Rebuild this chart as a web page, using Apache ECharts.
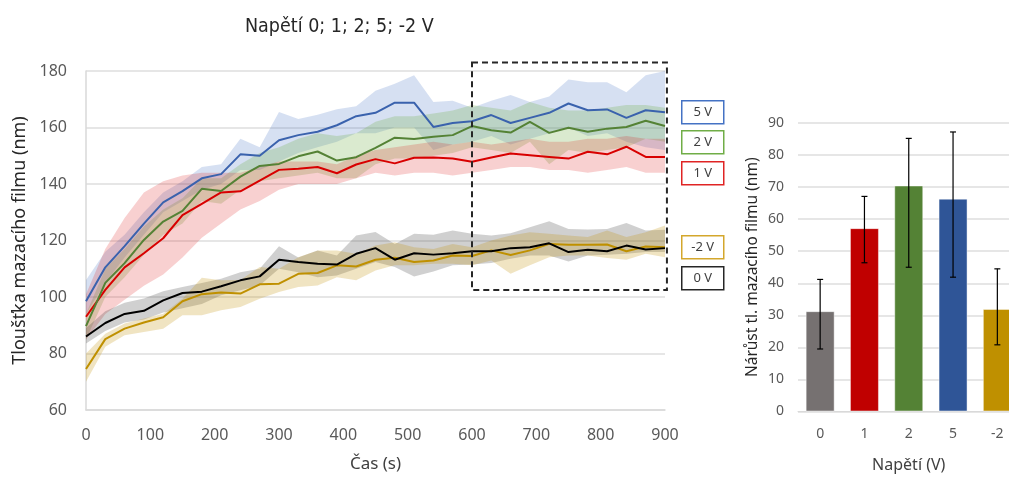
<!DOCTYPE html>
<html>
<head>
<meta charset="utf-8">
<script src="https://cdn.jsdelivr.net/npm/echarts@6/dist/echarts.min.js"></script>
<style>
  html, body { margin: 0; padding: 0; background: #ffffff; }
  #chart { width: 1009px; height: 477px; }
</style>
</head>
<body>
<div id="chart"></div>
<script>
// Sampling times (s)
const times = [0,30,60,90,120,150,180,210,240,270,300,330,360,390,420,450,480,510,540,570,600,630,660,690,720,750,780,810,840,870,900];

// 5 V: mean film thickness (nm) and band limits
const v5   = [98.5,110.5,118,126,133.5,137.5,142,143.5,150.5,150,155.5,157.3,158.5,160.8,164,165.2,168.8,168.8,160.2,161.6,162.2,164.4,161.6,163.4,165.2,168.5,166.1,166.4,163.4,166.1,165.4];
const v5Hi = [106,116,122,130,137,141,146,147,156,153,165.5,163,164.5,166.5,167.5,173,175.5,178.5,169,169.5,167,169.5,171.5,169,171,177,176,176,172.5,178.5,180];
const v5Lo = [94,105,114,122,130,134,138,140,145,145,148,151,153,155,158,158,160,160,152,154,155,157,154,156,158,160,157,158,155,153,152];

// 2 V
const v2   = [89.7,105,112,120.2,126.7,130.5,138.3,137.5,142.6,146.4,147.1,149.8,151.5,148.3,149.5,152.8,156.4,155.9,156.7,157.3,160.5,159,158.2,162,158.1,159.9,158.5,159.6,160.2,162.4,160.5];
const v2Hi = [94,110,117,125,131,135,142,142,147,151,153,156,158,157,158,162,164,164,165,166,168,167,166,169,167,166,166,167,168,168,167];
const v2Lo = [85,100,107,115,122,126,134,133,138,141,142,143,144,142,142,147,149,149,150,151,153,152,151,155,147,152,151,152,153,156,155];

// 1 V
const v1   = [93,102.5,110.5,115.5,120.8,129,133,137,137.4,141.2,145,145.4,146,143.8,146.9,148.8,147.3,149.3,149.4,149,147.9,149.4,150.8,150.2,149.6,149,151.4,150.5,153.2,149.6,149.6];
const v1Hi = [101,117,128,137,141,143,144,144,144,146,148,148,148,147,150,152,153,154,155,154,155,154,155,156,155,155,156,156,157,156,156];
const v1Lo = [85,94,99,104,108,114,121,126,131,134,138,140,140,140,142,144,143,144,144,143,144,145,146,146,145,145,144,145,146,144,144];

// 0 V
const v0   = [86,90.8,94,95.1,98.8,101.4,101.9,103.8,105.9,107.3,113.2,112.4,111.8,111.5,115.3,117.3,113.2,115.5,115,115.5,116.2,116.2,117.3,117.6,119,115.9,116.7,116.2,118.2,116.8,117.3];
const v0Hi = [89,95,98,99.5,102,103.5,105,106.5,108.8,110,118,114,116.5,114.7,121.8,123,118.8,122.4,122,123.5,122.4,121.8,122.6,124.7,126.8,124.1,123.9,124.1,126.2,123.5,123.8];
const v0Lo = [83.5,88,91,92,94.5,96,97.5,100.6,102.4,104.1,110,108.8,107,107.6,110,112.4,110.6,107.3,109,111.2,111.5,112,113.5,114.7,114.7,112.6,114.7,115,115.3,115.9,115.9];

// -2 V
const vm2   = [74.5,85.1,88.8,91,92.8,98.5,101,101.6,101.2,104.5,104.7,108.2,108.5,111.2,110.8,113.2,113.9,112.4,112.9,114.7,114.5,116.5,114.9,116.5,118.8,118.5,118.5,118.6,116.2,117.9,117.6];
const vm2Hi = [80,87,90.6,92.4,94.1,99.4,106.8,105.9,106,110.6,110,114.1,116.5,116.5,115.3,118.2,119.4,117.6,117,118.8,117.6,120,121.8,122.9,122.4,121.8,121.2,123.5,121.2,122.9,125.3];
const vm2Lo = [70,82.4,86.5,87.6,88.8,93.5,93.5,95.3,96.5,99.4,101.8,103.5,104.1,107,105.9,109.4,111.2,111.2,111.8,111.8,111.2,112.9,108.2,111.2,114.1,114.7,114.7,113.8,113.2,115.3,114.1];

// Thickness growth per voltage (bar chart)
const barCategories = ['0', '1', '2', '5', '-2'];
const barValues     = [31.3, 57.2, 70.5, 66.4, 32.0];
const barErrHigh    = [41.2, 67.1, 85.2, 87.2, 44.5];
const barErrLow     = [19.5, 46.4, 45.0, 41.9, 20.8];

// Highlighted steady-state window (time range and thickness range)
const windowTimes = [600, 903];
const windowThick = [102.5, 183];

const labelFont = 'Noto Sans';
const textColor = '#595959';
const barColors = ['#767171', '#c00000', '#548235', '#2f5597', '#bf9000'];

function toPairs(vals) {
  return times.map((t, i) => [t, vals[i]]);
}

function band(lo, hi, fill) {
  return {
    type: 'custom',
    xAxisIndex: 0, yAxisIndex: 0,
    silent: true, z: 1,
    data: [0],
    renderItem: function (params, api) {
      const pts = [];
      for (let i = 0; i < times.length; i++) pts.push(api.coord([times[i], hi[i]]));
      for (let i = times.length - 1; i >= 0; i--) pts.push(api.coord([times[i], lo[i]]));
      return { type: 'polygon', shape: { points: pts }, style: { fill: fill } };
    }
  };
}

function line(vals, color, z) {
  return {
    type: 'line', xAxisIndex: 0, yAxisIndex: 0,
    data: toPairs(vals),
    showSymbol: false, silent: true, z: z,
    lineStyle: { color: color, width: 2 }
  };
}

const legendBoxes = [
  { text: '5 V',  color: '#4472c4', top: 100 },
  { text: '2 V',  color: '#70ad47', top: 130 },
  { text: '1 V',  color: '#e02424', top: 161 },
  { text: '-2 V', color: '#d4a72c', top: 235 },
  { text: '0 V',  color: '#262626', top: 266 }
];

const graphics = legendBoxes.map(b => ({
  type: 'group', left: 681, top: b.top,
  children: [
    { type: 'rect', shape: { x: 0, y: 0, width: 42, height: 23 },
      style: { fill: '#ffffff', stroke: b.color, lineWidth: 1.5 } },
    { type: 'text', x: 21, y: 12,
      style: { text: b.text, fill: '#404040', font: '13px "Noto Sans"', align: 'center', verticalAlign: 'middle' } }
  ]
}));

const chart = echarts.init(document.getElementById('chart'), null, { renderer: 'canvas' });

chart.setOption({
  animation: false,
  backgroundColor: '#ffffff',
  title: {
    text: 'Napětí 0; 1; 2; 5; -2 V',
    left: 240, top: 12,
    textStyle: { fontFamily: 'DejaVu Sans Condensed', fontSize: 19.5, fontWeight: 'normal', color: '#262626' }
  },
  grid: [
    { left: 86, top: 71, width: 579, height: 339, outerBoundsMode: 'none', containLabel: false },
    { left: 798, top: 123, width: 221.5, height: 288.5, outerBoundsMode: 'none', containLabel: false }
  ],
  xAxis: [
    {
      type: 'value', gridIndex: 0, min: 0, max: 900, interval: 100,
      name: 'Čas (s)', nameLocation: 'middle', nameGap: 46,
      nameTextStyle: { fontFamily: labelFont, fontSize: 17, color: '#404040' },
      axisLine: { show: true, lineStyle: { color: '#d9d9d9', width: 1.5 } },
      axisTick: { show: false },
      axisLabel: { fontFamily: labelFont, fontSize: 16, color: textColor, margin: 17 },
      splitLine: { show: false }
    },
    {
      type: 'category', gridIndex: 1, data: barCategories,
      name: 'Napětí (V)', nameLocation: 'middle', nameGap: 46,
      nameTextStyle: { fontFamily: labelFont, fontSize: 16, color: '#404040' },
      axisLine: { show: true, lineStyle: { color: '#d9d9d9' } },
      axisTick: { show: false },
      axisLabel: { fontFamily: labelFont, fontSize: 14, color: textColor, margin: 16 }
    }
  ],
  yAxis: [
    {
      type: 'value', gridIndex: 0, min: 60, max: 180, interval: 20,
      name: 'Tloušťka mazacího filmu (nm)', nameLocation: 'middle', nameGap: 57,
      nameTextStyle: { fontFamily: labelFont, fontSize: 18, color: '#262626' },
      axisLine: { show: true, lineStyle: { color: '#d9d9d9', width: 1.5 } },
      axisTick: { show: false },
      axisLabel: { fontFamily: labelFont, fontSize: 16, color: textColor, margin: 19 },
      splitLine: { lineStyle: { color: '#dedede', width: 1.5 } }
    },
    {
      type: 'value', gridIndex: 1, min: 0, max: 90, interval: 10,
      name: 'Nárůst tl. mazacího filmu (nm)', nameLocation: 'middle', nameGap: 37,
      nameTextStyle: { fontFamily: labelFont, fontSize: 15.5, color: '#262626' },
      axisLine: { show: false },
      axisTick: { show: false },
      axisLabel: { fontFamily: labelFont, fontSize: 14, color: textColor, margin: 14 },
      splitLine: { lineStyle: { color: '#dedede', width: 1.5 } }
    }
  ],
  graphic: graphics,
  series: [
    band(v5Lo, v5Hi, 'rgba(68,114,196,0.22)'),
    band(v2Lo, v2Hi, 'rgba(112,173,71,0.26)'),
    band(v1Lo, v1Hi, 'rgba(220,20,20,0.20)'),
    band(v0Lo, v0Hi, 'rgba(60,60,60,0.24)'),
    band(vm2Lo, vm2Hi, 'rgba(191,144,0,0.24)'),
    line(vm2, '#bf9000', 4),
    line(v0, '#000000', 5),
    line(v1, '#d80000', 4),
    line(v2, '#548235', 4),
    line(v5, '#3a62ad', 4),
    {
      type: 'custom', xAxisIndex: 0, yAxisIndex: 0, silent: true, z: 6,
      data: [0],
      renderItem: function (params, api) {
        const a = api.coord([windowTimes[0], windowThick[1]]);
        const b = api.coord([windowTimes[1], windowThick[0]]);
        return {
          type: 'rect',
          shape: { x: a[0], y: a[1], width: b[0] - a[0], height: b[1] - a[1] },
          style: { fill: 'none', stroke: '#262626', lineWidth: 2, lineDash: [6, 4] }
        };
      }
    },
    {
      type: 'bar', xAxisIndex: 1, yAxisIndex: 1,
      barWidth: 29, silent: true,
      data: barValues.map((v, i) => ({
        value: v,
        itemStyle: { color: barColors[i], borderColor: 'rgba(255,255,255,0.45)', borderWidth: 1 }
      }))
    },
    {
      type: 'custom', xAxisIndex: 1, yAxisIndex: 1, silent: true, z: 5,
      data: barCategories.map((c, i) => [i, barErrLow[i], barErrHigh[i]]),
      renderItem: function (params, api) {
        const lo = api.coord([api.value(0), api.value(1)]);
        const hi = api.coord([api.value(0), api.value(2)]);
        const cap = 3;
        const st = { stroke: '#000000', lineWidth: 1.2 };
        return {
          type: 'group',
          children: [
            { type: 'line', shape: { x1: hi[0], y1: hi[1], x2: lo[0], y2: lo[1] }, style: st },
            { type: 'line', shape: { x1: hi[0] - cap, y1: hi[1], x2: hi[0] + cap, y2: hi[1] }, style: st },
            { type: 'line', shape: { x1: lo[0] - cap, y1: lo[1], x2: lo[0] + cap, y2: lo[1] }, style: st }
          ]
        };
      }
    }
  ]
});
</script>
</body>
</html>
